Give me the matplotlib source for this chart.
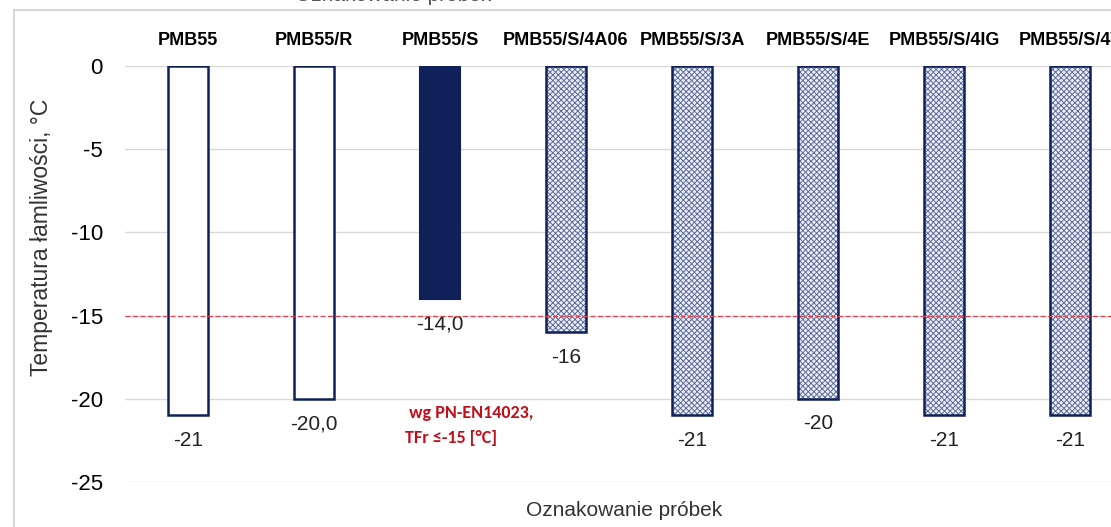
import numpy as np
import matplotlib.pyplot as plt
from matplotlib.lines import Line2D

# Sample codes and brittleness temperatures (Fraass)
samples = ['PMB55', 'PMB55/R', 'PMB55/S', 'PMB55/S/4A06', 'PMB55/S/3A',
           'PMB55/S/4E', 'PMB55/S/4IG', 'PMB55/S/4T']
temps = [-21, -20, -14, -16, -21, -20, -21, -21]
temp_labels = ['-21', '-20,0', '-14,0', '-16', '-21', '-20', '-21', '-21']
fill_kind = ['empty', 'empty', 'solid', 'hatch', 'hatch', 'hatch', 'hatch', 'hatch']
limit = -15

navy = '#0f2158'
plt.rcParams['font.family'] = ['Liberation Sans', 'DejaVu Sans']
plt.rcParams['axes.unicode_minus'] = False
plt.rcParams['hatch.linewidth'] = 0.7

fig = plt.figure(figsize=(11.11, 5.27), dpi=100)
ax = fig.add_axes([125 / 1111, 45 / 527, 1008 / 1111, 416 / 527])

x = np.arange(len(samples))
w = 0.32
for xi, t, kind in zip(x, temps, fill_kind):
    if kind == 'solid':
        ax.bar(xi, t, w, color=navy, edgecolor=navy, linewidth=1.5, zorder=3)
    elif kind == 'hatch':
        ax.bar(xi, t, w, color='#eef0f6', edgecolor='#5d6c9c', hatch='xxxxxx',
               linewidth=0, zorder=3)
        ax.bar(xi, t, w, fill=False, edgecolor=navy, linewidth=1.8, zorder=4)
    else:
        ax.bar(xi, t, w, color='white', edgecolor=navy, linewidth=1.8, zorder=3)

for xi, t, lab in zip(x, temps, temp_labels):
    ax.annotate(lab, (xi, t), xytext=(0, -11), textcoords='offset points',
                ha='center', va='top', fontsize=15, color='#222222')

ax.axhline(limit, color='#e8404a', lw=0.9, ls=(0, (4, 2)), zorder=5)
ax.text(1.72, -21.6, ' wg PN-EN14023,\nTFr \u2264-15 [\u00b0C]', color='#c0101c',
        fontsize=13, fontweight='semibold', family=['Carlito', 'Lato', 'DejaVu Sans'],
        ha='left', va='center', linespacing=1.75)

ax.set_ylim(-25, 0)
ax.set_xlim(-0.5, len(samples) - 0.5)
ax.set_yticks(np.arange(-25, 1, 5))
ax.yaxis.grid(True, color='#d9d9d9', lw=1)
ax.set_axisbelow(True)
for s in ax.spines.values():
    s.set_visible(False)
ax.tick_params(axis='y', length=0, pad=16, labelsize=16)
ax.xaxis.tick_top()
ax.set_xticks(x)
ax.set_xticklabels(samples, fontsize=13, fontweight='bold')
ax.tick_params(axis='x', length=0, pad=12)

ax.set_ylabel('Temperatura łamliwości, °C', fontsize=16.5, color='#333333')
ax.yaxis.set_label_coords(-72 / 1008, 0.587)
fig.text(624 / 1111, 16 / 527, 'Oznakowanie próbek', fontsize=15, color='#333333',
         ha='center', va='center')
# bottom edge of the caption of the panel above
fig.text(393 / 1111, 1 - 5 / 527, 'Oznakowanie próbek', fontsize=15, color='#555555',
         ha='center', va='bottom')

# chart area border
fig.add_artist(Line2D([14 / 1111, 14 / 1111], [0, 1 - 10 / 527], color='#d0d0d0', lw=1.2))
fig.add_artist(Line2D([14 / 1111, 1], [1 - 10 / 527, 1 - 10 / 527], color='#d0d0d0', lw=1.2))

fig.savefig('out.png', dpi=100)
